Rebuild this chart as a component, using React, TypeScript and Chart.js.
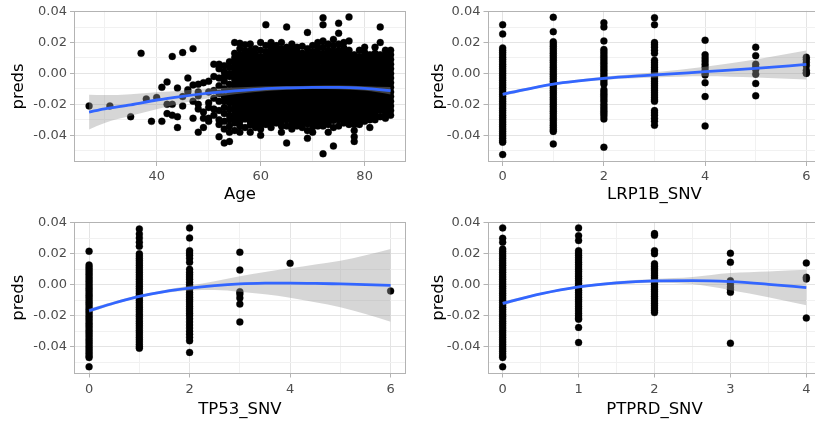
import React, { useEffect, useRef } from "react";
import { Chart, registerables } from "chart.js";

Chart.register(...registerables);

const FONT = "'DejaVu Sans', 'Noto Sans', sans-serif";

// ---------- shared y axis (preds) ----------
const Y_TITLE = "preds";
const Y_MIN = -0.0573;
const Y_MAX = 0.0405;
const Y_MAJOR = [-0.04, -0.02, 0, 0.02, 0.04];
const Y_MINOR = [-0.05, -0.03, -0.01, 0.01, 0.03];

// ---------- Panel 1: Age (preds in thousandths) ----------
const AGE_TITLE = "Age";
const AGE_RANGE = [24.1, 87.9];
const AGE_MAJOR = [40, 60, 80];
const AGE_MINOR = [30, 50, 70];
const AGE_POINTS: [number, number[]][] = [
  [27, [-21]],
  [31, [-21]],
  [35, [-28]],
  [37, [13]],
  [38, [-16.5]],
  [39, [-31]],
  [40, [-15.5]],
  [41, [-31, -9]],
  [42, [-5.5, -20, -26]],
  [43, [11, -27, -20]],
  [44, [-28, -9.5, -35]],
  [45, [13.5, -15, -21]],
  [46, [-3, -10.5, -12]],
  [47, [16, -29, -7.5, -18]],
  [48, [-7, -20, -38, -12, -14.5, -23]],
  [49, [-35, -29, -6, -25]],
  [50, [-5, -19, -22, -29, -31, -12]],
  [51, [6, -27, -11, -16, -23, -2]],
  [52, [6, 3, -3, -8, -13, -18, -24, -30, -33, -41]],
  [53, [5, 1, -2, -5, -10, -15, -18, -22, -26, -31, -36, -45]],
  [54, [7.5, 4, 0, -2, -7, -11, -14, -17, -19, -23, -27, -30, -34, -38, -44]],
  [55, [20, 13, 10, 7, 4.5, 1.5, -1.5, -4, -7, -10, -12.5, -15.5, -18.5, -21, -24, -27, -29.5, -32, -37]],
  [56, [19.5, 16, 12, 9, 6, 3, 0, -3, -6, -8.5, -11.5, -14.5, -17, -20, -23, -26, -28.5, -31, -34, -38]],
  [57, [18.5, 14.5, 11.5, 8.5, 5.5, 2.5, -0.5, -3.5, -6, -9, -12, -15, -18, -21, -24, -26.5, -29.5, -35]],
  [58, [19, 15, 13, 10, 7, 4, 1, -2, -5, -8, -11, -14, -16.5, -19.5, -22.5, -25.5, -28.5, -31, -33.5, -38]],
  [59, [16, 12.5, 9.5, 6.5, 3.5, 0.5, -2.5, -5.5, -8.5, -11.5, -14, -17, -20, -23, -26, -29, -31.5, -35]],
  [60, [20, 15, 11, 8, 5, 2, -1, -4, -7, -10, -13, -16, -19, -21.5, -24.5, -27.5, -30.5, -33, -36, -40]],
  [61, [31.5, 18, 14, 11, 8.5, 5.5, 2.5, -0.5, -3.5, -6.5, -9.5, -12.5, -15, -18, -21, -24, -27, -30, -33]],
  [62, [20, 16.5, 13, 10, 7, 4, 1, -2, -5, -8, -11, -14, -17, -20, -22.5, -25.5, -28.5, -31.5, -35]],
  [63, [18, 14.5, 11.5, 8.5, 5.5, 2.5, -0.5, -3.5, -6.5, -9.5, -12.5, -15.5, -18.5, -21.5, -24, -27, -30, -32]],
  [64, [20, 16, 13, 10, 7, 4, 1, -2, -5, -8, -11, -13.5, -16.5, -19.5, -22.5, -25.5, -28.5, -31, -34, -38]],
  [65, [30, 17, 14, 11.5, 8.5, 5.5, 2.5, -0.5, -3.5, -6.5, -9.5, -12.5, -15.5, -18.5, -21.5, -24.5, -27, -30, -34, -45]],
  [66, [19, 15.5, 12.5, 9.5, 6.5, 3.5, 0.5, -2.5, -5.5, -8.5, -11.5, -14.5, -17.5, -20.5, -23.5, -26.5, -29.5, -32.5, -36]],
  [67, [17, 14, 11, 8, 5, 2, -1, -4, -7, -10, -13, -16, -19, -22, -25, -28, -31, -34]],
  [68, [17.5, 13, 10, 7, 4, 1, -2, -5, -8, -11, -14, -17, -20, -23, -26, -29, -31.5, -35]],
  [69, [26.5, 16, 12.5, 9.5, 6.5, 3.5, 0.5, -2.5, -5.5, -8.5, -11.5, -14.5, -17.5, -20.5, -23.5, -26.5, -29.5, -32.5, -37, -42]],
  [70, [18, 14, 11, 8, 5, 2, -1, -4, -7, -10, -13, -16, -19, -22, -25, -28, -31, -34.5, -38]],
  [71, [20, 16.5, 13.5, 10.5, 7.5, 4.5, 1.5, -1.5, -4.5, -7.5, -10.5, -13.5, -16.5, -19.5, -22.5, -25.5, -28.5, -31.5, -34]],
  [72, [36, 31.5, 21, 17, 13, 10, 7, 4, 1, -2, -5, -8, -11, -14, -17, -20, -23, -26, -29, -32, -34, -52]],
  [73, [19, 15, 12, 9, 6, 3, 0, -3, -6, -9, -12, -15, -18, -21, -24, -27, -30, -33, -38]],
  [74, [22, 18, 14.5, 11.5, 8.5, 5.5, 2.5, -0.5, -3.5, -6.5, -9.5, -12.5, -15.5, -18.5, -21.5, -24.5, -27.5, -30.5, -35, -47]],
  [75, [32.5, 26, 19, 15, 12, 9, 6, 3, 0, -3, -6, -9, -12, -15, -18, -21, -24, -27, -30, -34]],
  [76, [20, 16.5, 13.5, 10.5, 7.5, 4.5, 1.5, -1.5, -4.5, -7.5, -10.5, -13.5, -16.5, -19.5, -22.5, -25.5, -28.5, -32]],
  [77, [36.5, 21, 15, 12, 9, 6, 3, 0, -3, -6, -9, -12, -15, -18, -21, -24, -27, -30, -33]],
  [78, [12, 9.5, 6.5, 3.5, 0.5, -2.5, -5.5, -8.5, -11.5, -14.5, -17.5, -20.5, -23.5, -26.5, -29.5, -33, -37, -41, -44]],
  [79, [15, 11, 8, 5, 2, -1, -4, -7, -10, -13, -16, -19, -22, -25, -28, -30.5, -33]],
  [80, [17, 13.5, 10.5, 7.5, 4.5, 1.5, -1.5, -4.5, -7.5, -10.5, -13.5, -16.5, -19.5, -22.5, -25.5, -28.5, -31]],
  [81, [12, 9, 6, 3, 0, -3, -6, -9, -12, -15, -18, -21, -24, -27, -30, -35]],
  [82, [17, 13, 10.5, 7.5, 4.5, 1.5, -1.5, -4.5, -7.5, -10.5, -13.5, -16.5, -19.5, -22.5, -25.5, -28, -30]],
  [83, [30, 20, 12, 9, 6, 3, 0, -3, -6, -9, -12, -15, -18, -21, -24, -28]],
  [84, [15, 11.5, 8.5, 5.5, 2.5, -0.5, -3.5, -6.5, -9.5, -12.5, -15.5, -18.5, -21.5, -23, -26.5, -29]],
  [85, [15, 12, 9, 6, 3, 0, -3, -6, -9, -12, -15, -18, -21, -24, -27]],
];
const AGE_SMOOTH_X = [27, 30, 35, 40, 45, 50, 55, 60, 65, 70, 75, 80, 85];
const AGE_FIT = [-25, -22.9, -20.3, -17.2, -14.8, -12.8, -11.3, -10.1, -9.4, -9.0, -9.0, -9.7, -11.2];
const AGE_UPPER = [-13.8, -14.0, -13.4, -12.2, -11.0, -9.9, -9.1, -8.5, -8.2, -7.9, -7.8, -8.3, -8.8];
const AGE_LOWER = [-36.2, -32.0, -27.4, -23.2, -19.1, -16.0, -13.5, -11.7, -10.6, -10.1, -10.2, -11.1, -13.6];

// ---------- Panel 2: LRP1B_SNV ----------
const LRP_TITLE = "LRP1B_SNV";
const LRP_RANGE = [-0.3, 6.3];
const LRP_MAJOR = [0, 2, 4, 6];
const LRP_MINOR = [1, 3, 5];
const LRP_POINTS: [number, number[]][] = [
  [0, [31.5, 25.5, 16.5, 15, 13.5, 12, 10.5, 9, 7.5, 6, 4.5, 3, 1.5, 0, -1.5, -3, -4.5, -6, -7.5, -9, -10.5, -12, -13.5, -15, -16.5, -18, -19.5, -21, -22.5, -24, -25.5, -27, -28.5, -30, -31.5, -33, -34.5, -36, -37.5, -39, -40.5, -42, -43.5, -44.5, -52.5]],
  [1, [36.3, 27, 20.5, 19, 17.5, 16, 14.5, 13, 11.5, 10, 8.5, 7, 5.5, 4, 2.5, 1, -0.5, -2, -3.5, -5, -6.5, -8, -9.5, -11, -12.5, -14, -15.5, -17, -18.5, -20, -21.5, -23, -24.5, -26, -27.5, -29, -30.5, -32, -33.5, -35, -36.5, -37.5, -45.6]],
  [2, [32.7, 30, 21, 15.5, 14, 12.5, 11, 9.5, 8, 6.5, 5, 3.5, 2, 0.5, -1, -2.5, -4, -5.5, -7, -10.5, -12, -13.5, -15, -16.5, -18, -20, -21.5, -23, -24.5, -26, -27.5, -29.5, -47.7]],
  [3, [36, 31.5, 20, 18.5, 17, 15, 13, 8.5, 7, 5.5, 4, 2.5, 1, -0.5, -2, -3.5, -5, -6.5, -8, -9.5, -11, -12.5, -14, -15.5, -17, -18, -24, -25.5, -27, -29, -31, -33.5]],
  [4, [21.5, 12, 10, 8, 6, 4, 2, 0, -1, -6, -15, -34]],
  [5, [17, 11.5, 6, 4, 2.5, -0.5, -6.5, -14.5]],
  [6, [10.5, 9, 7, 5, 2, 0.5, 0]],
];
const LRP_SMOOTH_X = [0, 1, 2, 3, 4, 5, 6];
const LRP_FIT = [-13.5, -6.9, -3.2, -1.0, 1.1, 3.2, 5.8];
const LRP_UPPER = [-12.4, -6.2, -2.2, 0.7, 4.3, 9.0, 14.8];
const LRP_LOWER = [-14.6, -7.6, -4.2, -2.7, -1.9, -2.7, -3.9];

// ---------- Panel 3: TP53_SNV ----------
const TP_TITLE = "TP53_SNV";
const TP_RANGE = [-0.3, 6.3];
const TP_MAJOR = [0, 2, 4, 6];
const TP_MINOR = [1, 3, 5];
const TP_POINTS: [number, number[]][] = [
  [0, [21.6, 12.7, 11.2, 9.7, 8.2, 6.7, 5.2, 3.7, 2.2, 0.7, -0.8, -2.3, -3.8, -5.3, -6.8, -8.3, -9.8, -11.3, -12.8, -14.3, -15.8, -17.3, -18.8, -20.3, -21.8, -23.3, -24.8, -26.3, -27.8, -29.3, -30.8, -32.3, -33.8, -35.3, -36.8, -38.3, -39.8, -41.3, -42.8, -44.3, -45.8, -47, -53]],
  [1, [36, 32.8, 30.2, 27.4, 24.8, 20, 18.5, 17, 15.5, 14, 12.5, 11, 9.5, 8, 6.5, 5, 3.5, 2, 0.5, -1, -2.5, -4, -5.5, -7, -8.5, -10, -11.5, -13, -14.5, -16, -17.5, -19, -20.5, -22, -23.5, -25, -26.5, -28, -29.5, -31, -32.5, -34, -35.5, -37, -38.5, -40, -41]],
  [2, [36.7, 30.2, 22, 20.5, 19, 17, 14.5, 10, 8, 6.5, 5, 3.5, 1.6, 0, -1.5, -3, -5, -6.5, -8, -9.5, -11, -12.5, -14, -15.5, -17, -18.5, -20, -22, -24, -26, -28, -30, -32, -34, -36.2, -43.7]],
  [3, [21, 9.5, -4.5, -6, -8.5, -12.5, -24]],
  [4, [13.8]],
  [6, [-4]],
];
const TP_SMOOTH_X = [0, 0.5, 1, 1.5, 2, 2.5, 3, 3.5, 4, 4.5, 5, 5.5, 6];
const TP_FIT = [-16.8, -11.8, -7.5, -4.4, -2.2, -0.6, 0.5, 1.0, 1.1, 0.9, 0.5, 0.1, -0.4];
const TP_UPPER = [-15.5, -10.8, -6.7, -3.4, -0.7, 2.2, 5.5, 8.2, 10.6, 13.1, 15.5, 19.1, 23.1];
const TP_LOWER = [-18.1, -12.8, -8.3, -5.4, -3.7, -3.4, -4.5, -6.2, -8.4, -11.3, -14.5, -18.9, -23.9];

// ---------- Panel 4: PTPRD_SNV ----------
const PT_TITLE = "PTPRD_SNV";
const PT_RANGE = [-0.2, 4.2];
const PT_MAJOR = [0, 1, 2, 3, 4];
const PT_MINOR = [0.5, 1.5, 2.5, 3.5];
const PT_POINTS: [number, number[]][] = [
  [0, [36.7, 30, 27.4, 23, 21.5, 20, 18.5, 17, 15.5, 14, 12.5, 11, 9.5, 8, 6.5, 5, 3.5, 2, 0.5, -1, -2.5, -4, -5.5, -7, -8.5, -10, -11.5, -13, -14.5, -16, -17.5, -19, -20.5, -22, -23.5, -25, -26.5, -28, -29.5, -31, -32.5, -34, -35.5, -37, -38.5, -40, -41.5, -43, -44.5, -46, -47, -53]],
  [1, [36.7, 31.7, 28.5, 22, 20.5, 19, 17.5, 16, 14.5, 13, 11.5, 10, 8.5, 7, 5.5, 4, 2.5, 1, -0.5, -2, -3.5, -5, -6.5, -8, -9.5, -11, -12.5, -14, -15.5, -17, -18.5, -20, -21.5, -22.2, -27.6, -37.3]],
  [2, [33, 32, 22, 20, 13.5, 12, 10.5, 9, 7.5, 6, 4.5, 3, 1.5, 0, -1.5, -3, -4.5, -6, -7.5, -9, -10.5, -12, -13.5, -15, -16.5, -18]],
  [3, [20.3, 14.5, 2.6, 0.5, -1.5, -3, -4.9, -37.7]],
  [4, [14, 4.8, 3.7, -21.5]],
];
const PT_SMOOTH_X = [0, 0.5, 1, 1.5, 2, 2.5, 3, 3.5, 4];
const PT_FIT = [-12.0, -5.9, -1.4, 1.2, 2.5, 2.7, 2.0, 0.3, -1.8];
const PT_UPPER = [-10.8, -5.1, -0.6, 2.2, 3.7, 5.0, 7.5, 8.6, 9.7];
const PT_LOWER = [-13.2, -6.7, -2.2, 0.2, 1.3, 0.4, -3.5, -8.0, -13.3];

type Panel = {
  title: string;
  range: number[];
  major: number[];
  minor: number[];
  points: [number, number[]][];
  sx: number[];
  fit: number[];
  upper: number[];
  lower: number[];
  box: { x: number; y: number; w: number; h: number };
  area: { left: number; right: number; top: number; bottom: number };
  labelPad: number;
  titlePad: number;
};

const PANELS: Panel[] = [
  {
    title: AGE_TITLE, range: AGE_RANGE, major: AGE_MAJOR, minor: AGE_MINOR,
    points: AGE_POINTS, sx: AGE_SMOOTH_X, fit: AGE_FIT, upper: AGE_UPPER, lower: AGE_LOWER,
    box: { x: 0, y: 0, w: 410, h: 210 },
    area: { left: 74, right: 408, top: 10, bottom: 162 },
    labelPad: 3, titlePad: 5,
  },
  {
    title: LRP_TITLE, range: LRP_RANGE, major: LRP_MAJOR, minor: LRP_MINOR,
    points: LRP_POINTS, sx: LRP_SMOOTH_X, fit: LRP_FIT, upper: LRP_UPPER, lower: LRP_LOWER,
    box: { x: 420, y: 0, w: 410, h: 210 },
    area: { left: 67.5, right: 401.5, top: 10, bottom: 162 },
    labelPad: 3, titlePad: 5,
  },
  {
    title: TP_TITLE, range: TP_RANGE, major: TP_MAJOR, minor: TP_MINOR,
    points: TP_POINTS, sx: TP_SMOOTH_X, fit: TP_FIT, upper: TP_UPPER, lower: TP_LOWER,
    box: { x: 0, y: 210, w: 410, h: 211 },
    area: { left: 74, right: 408, top: 12, bottom: 163.5 },
    labelPad: 4.5, titlePad: 1.5,
  },
  {
    title: PT_TITLE, range: PT_RANGE, major: PT_MAJOR, minor: PT_MINOR,
    points: PT_POINTS, sx: PT_SMOOTH_X, fit: PT_FIT, upper: PT_UPPER, lower: PT_LOWER,
    box: { x: 420, y: 210, w: 410, h: 211 },
    area: { left: 67.5, right: 401.5, top: 12, bottom: 163.5 },
    labelPad: 4.5, titlePad: 1.5,
  },
];

function tickList(major: number[], minor: number[]) {
  return [
    ...major.map((v) => ({ value: v, mj: true })),
    ...minor.map((v) => ({ value: v, mj: false })),
  ].sort((a, b) => a.value - b.value);
}

const panelBorder = {
  id: "panelBorder",
  afterDatasetsDraw(chart: any) {
    const { ctx, chartArea: a } = chart;
    ctx.save();
    ctx.strokeStyle = "#B3B3B3";
    ctx.lineWidth = 1;
    const l = Math.round(a.left) + 0.5;
    const t = Math.round(a.top) + 0.5;
    const r = Math.round(a.right) - 0.5;
    const b = Math.round(a.bottom) - 0.5;
    ctx.strokeRect(l, t, r - l, b - t);
    ctx.restore();
  },
};

function gridOpts() {
  return {
    color: (c: any) => (c.tick && c.tick.mj ? "#E4E4E4" : "#F1F1F1"),
    lineWidth: 1,
    tickColor: (c: any) => (c.tick && c.tick.mj ? "#B3B3B3" : "rgba(0,0,0,0)"),
    tickLength: 4,
    tickWidth: 1,
    drawTicks: true,
  };
}

function makeChart(canvas: HTMLCanvasElement, p: Panel) {
  const pts: { x: number; y: number }[] = [];
  p.points.forEach(([x, ys]) => ys.forEach((y) => pts.push({ x, y: y / 1000 })));
  const fit = p.sx.map((x, i) => ({ x, y: p.fit[i] / 1000 }));
  const upper = p.sx.map((x, i) => ({ x, y: p.upper[i] / 1000 }));
  const lower = p.sx.map((x, i) => ({ x, y: p.lower[i] / 1000 }));
  const xTicks = tickList(p.major, p.minor);
  const yTicks = tickList(Y_MAJOR, Y_MINOR);
  const H = p.box.h;
  const W = p.box.w;

  return new Chart(canvas, {
    type: "scatter",
    data: {
      datasets: [
        {
          type: "line",
          data: fit,
          borderColor: "#3366FF",
          borderWidth: 2.8,
          pointRadius: 0,
          fill: false,
          cubicInterpolationMode: "monotone",
        },
        {
          type: "line",
          data: upper,
          borderWidth: 0,
          borderColor: "rgba(0,0,0,0)",
          pointRadius: 0,
          fill: "+1",
          backgroundColor: "rgba(153,153,153,0.4)",
          cubicInterpolationMode: "monotone",
        },
        {
          type: "line",
          data: lower,
          borderWidth: 0,
          borderColor: "rgba(0,0,0,0)",
          pointRadius: 0,
          fill: false,
          cubicInterpolationMode: "monotone",
        },
        {
          type: "scatter",
          data: pts,
          pointStyle: "circle",
          pointRadius: 3.5,
          radius: 3.5,
          pointBackgroundColor: "#000000",
          backgroundColor: "#000000",
          pointBorderColor: "#000000",
          borderColor: "#000000",
          borderWidth: 0.3,
          pointBorderWidth: 0.3,
        },
      ],
    } as any,
    options: {
      responsive: false,
      animation: false,
      devicePixelRatio: 1,
      events: [],
      layout: { padding: { left: 0, top: p.area.top, right: W - p.area.right, bottom: 0 } },
      plugins: { legend: { display: false }, tooltip: { enabled: false } },
      scales: {
        x: {
          type: "linear",
          position: "bottom",
          min: p.range[0],
          max: p.range[1],
          afterBuildTicks: (s: any) => {
            s.ticks = xTicks.map((t) => ({ ...t }));
          },
          afterFit: (s: any) => {
            s.height = H - p.area.bottom;
          },
          grid: gridOpts(),
          border: { display: false },
          ticks: {
            autoSkip: false,
            maxRotation: 0,
            padding: p.labelPad,
            color: "#4D4D4D",
            font: { family: FONT, size: 13 },
            callback: (v: any, i: number, ts: any[]) => (ts[i] && ts[i].mj ? String(v) : ""),
          },
          title: {
            display: true,
            text: p.title,
            color: "#000000",
            font: { family: FONT, size: 16.5 },
            padding: { top: 0, bottom: p.titlePad },
          },
        },
        y: {
          type: "linear",
          min: Y_MIN,
          max: Y_MAX,
          afterBuildTicks: (s: any) => {
            s.ticks = yTicks.map((t) => ({ ...t }));
          },
          afterFit: (s: any) => {
            s.width = p.area.left;
          },
          grid: gridOpts(),
          border: { display: false },
          ticks: {
            autoSkip: false,
            padding: 3,
            color: "#4D4D4D",
            font: { family: FONT, size: 13 },
            callback: (v: any, i: number, ts: any[]) => (ts[i] && ts[i].mj ? Number(v).toFixed(2) : ""),
          },
          title: {
            display: true,
            text: Y_TITLE,
            color: "#000000",
            font: { family: FONT, size: 16.5 },
            padding: { top: 8.4, bottom: 0 },
          },
        },
      },
    } as any,
    plugins: [panelBorder],
  });
}

function PanelChart({ p }: { p: Panel }) {
  const ref = useRef<HTMLCanvasElement | null>(null);
  useEffect(() => {
    if (!ref.current) return;
    const chart = makeChart(ref.current, p);
    return () => chart.destroy();
  }, [p]);
  return (
    <canvas
      ref={ref}
      width={p.box.w}
      height={p.box.h}
      style={{ position: "absolute", left: p.box.x, top: p.box.y, width: p.box.w, height: p.box.h }}
    />
  );
}

export default function App() {
  return (
    <div
      style={{
        position: "fixed",
        left: 0,
        top: 0,
        width: 815,
        height: 421,
        overflow: "hidden",
        background: "#ffffff",
      }}
    >
      {PANELS.map((p, i) => (
        <PanelChart key={i} p={p} />
      ))}
    </div>
  );
}
